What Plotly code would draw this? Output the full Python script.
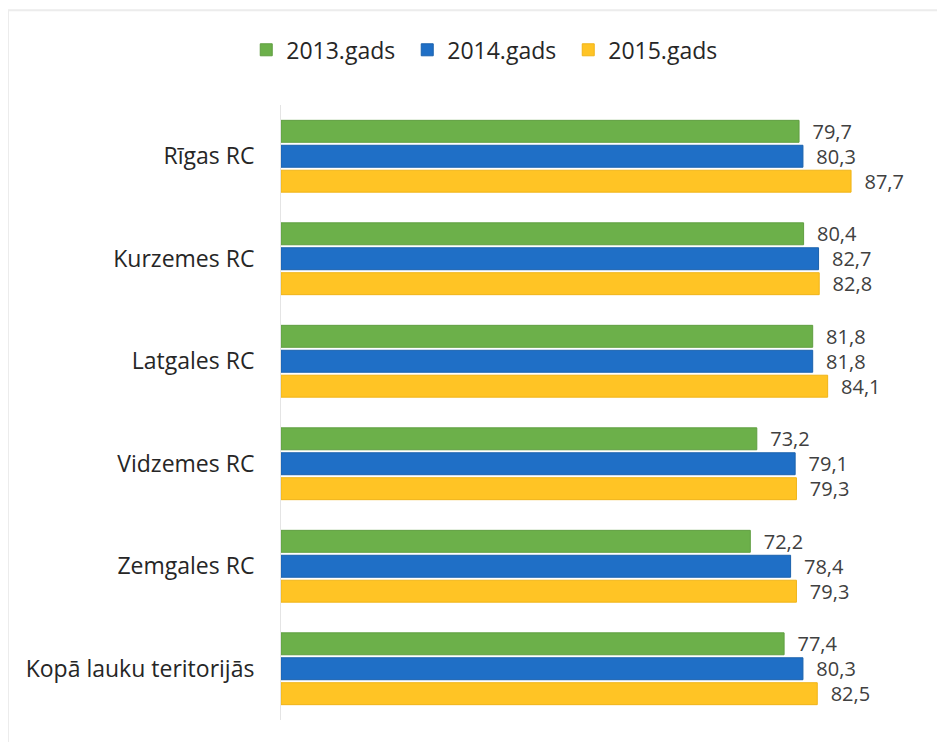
import plotly.graph_objects as go

categories = ["Rīgas RC", "Kurzemes RC", "Latgales RC", "Vidzemes RC", "Zemgales RC", "Kopā lauku teritorijās"]
series_names = ["2013.gads", "2014.gads", "2015.gads"]
values_2013 = [79.7, 80.4, 81.8, 73.2, 72.2, 77.4]
values_2014 = [80.3, 82.7, 81.8, 79.1, 78.4, 80.3]
values_2015 = [87.7, 82.8, 84.1, 79.3, 79.3, 82.5]
colors = ["#6cb04a", "#1f6fc6", "#ffc425"]
edge_colors = ["#5f9e40", "#1b62ad", "#f0b418"]

FONT = "'Open Sans', 'Noto Sans', sans-serif"

fig = go.Figure()
for name, vals, c, ec in zip(series_names, [values_2013, values_2014, values_2015], colors, edge_colors):
    fig.add_trace(go.Bar(
        y=categories, x=vals, name=name, orientation="h",
        marker=dict(color=c, line=dict(color=ec, width=1)),
        texttemplate="\u00a0\u00a0%{x:.1f}", textposition="outside",
        constraintext="none",
        textfont=dict(size=20, color="#404040", family=FONT),
        cliponaxis=False,
    ))

fig.update_layout(
    width=937, height=734,
    margin=dict(l=273, r=14, t=97, b=22, autoexpand=False),
    paper_bgcolor="white", plot_bgcolor="white",
    barmode="group", bargap=0.27, bargroupgap=0.12,
    separators=", ",
    font=dict(family=FONT, size=22, color="#262626"),
    showlegend=True,
    legend=dict(orientation="h", xref="container", x=0.512, xanchor="center",
                yref="container", y=0.943, yanchor="middle",
                entrywidth=116, entrywidthmode="pixels",
                font=dict(size=23, color="#262626", family=FONT), traceorder="normal"),
    xaxis=dict(range=[0, 100], visible=False, fixedrange=True),
    yaxis=dict(autorange="reversed", showline=True, linecolor="#e4e4e4", linewidth=1,
               ticks="", tickfont=dict(size=23, color="#262626", family=FONT),
               ticklabelstandoff=21, showgrid=False),
    shapes=[dict(type="rect", xref="paper", yref="paper", x0=-0.42, x1=1.05, y0=-0.1, y1=1.154,
                 line=dict(color="#ececec", width=2), layer="below")],
)

fig.write_html("out.html")
